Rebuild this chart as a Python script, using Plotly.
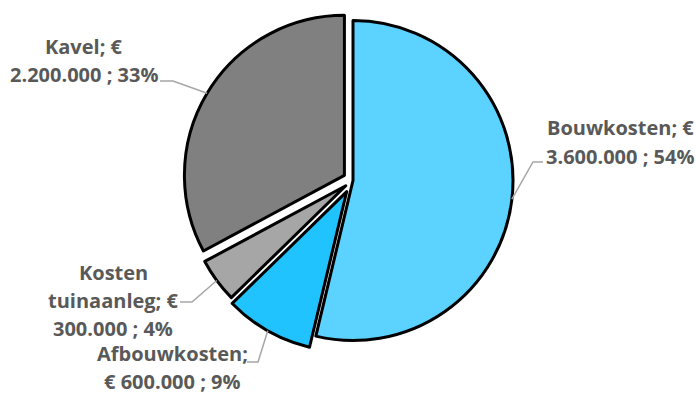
import math
import plotly.graph_objects as go

# ---- data ----
categories = ["Bouwkosten", "Afbouwkosten", "Kosten tuinaanleg", "Kavel"]
values = [3600000, 600000, 300000, 2200000]
label_lines = [
    ["Bouwkosten; €", "3.600.000 ; 54%"],
    ["Afbouwkosten;", "€ 600.000 ; 9%"],
    ["Kosten", "tuinaanleg; €", "300.000 ; 4%"],
    ["Kavel; €", "2.200.000 ; 33%"],
]
colors = ["#5BD2FF", "#21C3FF", "#A6A6A6", "#808080"]
pulls = [0.0, 0.08, 0.056, 0.0625]

# ---- layout constants (pixels) ----
W, H = 696, 394
CX, CY, R = 353, 180.5, 160
box = 2 * R * (1 + max(pulls))
dom_x = [(CX - box / 2) / W, (CX + box / 2) / W]
dom_y = [1 - (CY + box / 2) / H, 1 - (CY - box / 2) / H]

# label block centers, line spacing and leader elbows/ends (pixels)
label_pos = [(620, 142), (172, 367), (113, 300), (84, 60)]
LINE_GAP = 28
elbows = [((533, 162), (543, 162)), ((258, 362), (247, 362)),
          ((192, 302), (180, 302)), ((173, 81), (160, 81))]

def px(x):
    return x / W

def py(y):
    return 1 - y / H

fig = go.Figure(go.Pie(
    labels=categories,
    values=values,
    sort=False,
    direction="clockwise",
    rotation=0,
    pull=pulls,
    textinfo="none",
    hoverinfo="label+value+percent",
    marker=dict(colors=colors, line=dict(color="#000000", width=3)),
    domain=dict(x=dom_x, y=dom_y),
    showlegend=False,
))

total = sum(values)
cum = 0
shapes = []
annotations = []
for i, v in enumerate(values):
    mid = (cum + v / 2) / total
    cum += v
    th = 2 * math.pi * mid
    rr = R * (1 + pulls[i])
    ax = CX + rr * math.sin(th)
    ay = CY - rr * math.cos(th)
    (ex, ey), (tx, ty) = elbows[i]
    path = f"M {px(ax)} {py(ay)} L {px(ex)} {py(ey)} L {px(tx)} {py(ty)}"
    shapes.append(dict(type="path", xref="paper", yref="paper", path=path,
                       line=dict(color="#A6A6A6", width=1.5)))
    lx, ly = label_pos[i]
    n = len(label_lines[i])
    for k, line in enumerate(label_lines[i]):
        yy = ly + (k - (n - 1) / 2) * LINE_GAP
        annotations.append(dict(
            x=px(lx), y=py(yy), xref="paper", yref="paper",
            xanchor="center", yanchor="middle", align="center",
            text=line, showarrow=False, borderpad=0,
            font=dict(family="Open Sans", size=20, color="#595959", weight="bold"),
        ))

fig.update_layout(
    width=W, height=H,
    margin=dict(l=0, r=0, t=0, b=0),
    paper_bgcolor="white", plot_bgcolor="white",
    shapes=shapes, annotations=annotations,
)

fig.write_html("out.html")
